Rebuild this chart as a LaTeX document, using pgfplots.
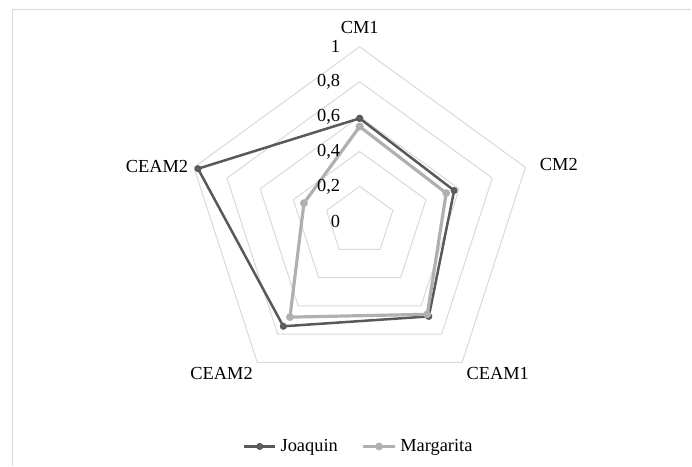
\documentclass[border=0pt]{standalone}
\usepackage{pgfplots}
\pgfplotsset{compat=1.18}
\usepackage{fontspec}
\setmainfont{Liberation Serif}
\definecolor{joa}{HTML}{595959}
\definecolor{mar}{HTML}{B0B0B0}
\definecolor{gridc}{HTML}{D9D9D9}
\definecolor{frame}{HTML}{D9D9D9}
\begin{document}
\begin{tikzpicture}
\begin{axis}[
  x=87.25pt, y=87.25pt,
  xmin=-2.063, xmax=1.903, ymin=-1.402, ymax=1.269,
  hide axis, clip=false,
  legend style={draw=none, fill=none, at={(axis cs:0,-1.292)}, anchor=center,
    legend columns=2, font=\fontsize{9.2}{11}\selectfont,
    /tikz/every even column/.append style={column sep=10pt}},
  legend cell align=left,
  legend image code/.code={
    \draw[#1] (0cm,0cm) -- (0.55cm,0cm);
    \draw[#1, mark repeat=1] plot coordinates {(0.275cm,0cm)};
  },
]
% page extent
\addplot[draw=none, forget plot] coordinates {(-2.063,-1.402) (1.903,1.269)};
\draw[frame, line width=0.6pt] (axis cs:-1.991,-1.402) |- (axis cs:1.903,1.214);
% grid pentagons
\pgfplotsinvokeforeach{0.2,0.4,0.6,0.8,1}{
  \addplot[gridc, line width=0.5pt, forget plot, data cs=polar] coordinates {(90,#1) (18,#1) (-54,#1) (-126,#1) (162,#1) (90,#1)};
}
% data
\addplot[joa, line width=1.25pt, mark=*, mark size=1.1pt, mark options={fill=joa!80}, data cs=polar] coordinates {
  (90,0.59) (18,0.57) (-54,0.675) (-126,0.745) (162,0.975) (90,0.59)};
\addlegendentry{Joaquin}
\addplot[mar, line width=1.6pt, mark=*, mark size=1.1pt, mark options={fill=mar!80}, data cs=polar] coordinates {
  (90,0.543) (18,0.522) (-54,0.66) (-126,0.68) (162,0.336) (90,0.543)};
\addlegendentry{Margarita}
% category labels
\node[anchor=center, font=\fontsize{9.2}{11}\selectfont] at (axis cs:0,1.114) {CM1};
\node[anchor=west, font=\fontsize{9.2}{11}\selectfont] at (axis cs:0.9938,0.3229) {CM2};
\node[anchor=north west, inner sep=1pt, font=\fontsize{9.2}{11}\selectfont] at (axis cs:0.5995,-0.8252) {CEAM1};
\node[anchor=north east, inner sep=1pt, font=\fontsize{9.2}{11}\selectfont] at (axis cs:-0.5995,-0.8252) {CEAM2};
\node[anchor=east, inner sep=1pt, font=\fontsize{9.2}{11}\selectfont] at (axis cs:-0.9701,0.3152) {CEAM2};
% radial tick labels
\node[anchor=east, inner sep=0pt, font=\fontsize{9.2}{11}\selectfont] at (axis cs:-0.11,0) {0};
\node[anchor=east, inner sep=0pt, font=\fontsize{9.2}{11}\selectfont] at (axis cs:-0.11,0.2) {0,2};
\node[anchor=east, inner sep=0pt, font=\fontsize{9.2}{11}\selectfont] at (axis cs:-0.11,0.4) {0,4};
\node[anchor=east, inner sep=0pt, font=\fontsize{9.2}{11}\selectfont] at (axis cs:-0.11,0.6) {0,6};
\node[anchor=east, inner sep=0pt, font=\fontsize{9.2}{11}\selectfont] at (axis cs:-0.11,0.8) {0,8};
\node[anchor=east, inner sep=0pt, font=\fontsize{9.2}{11}\selectfont] at (axis cs:-0.11,1) {1};
\end{axis}
\end{tikzpicture}
\end{document}
